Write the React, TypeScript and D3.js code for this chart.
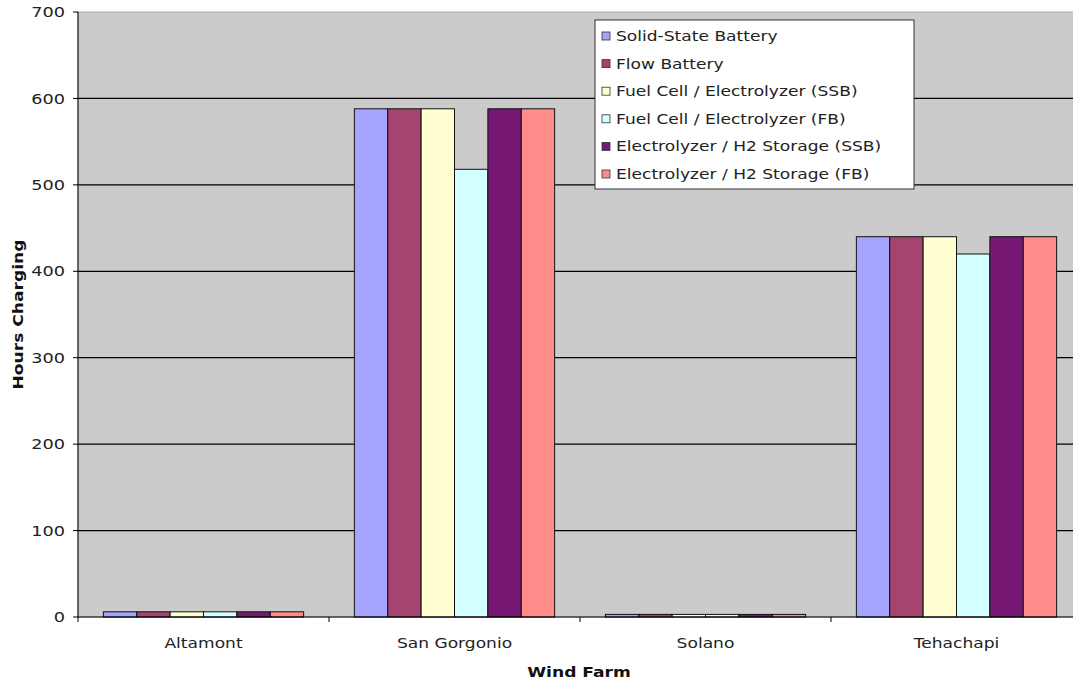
import * as d3 from "d3"

const farms = ["Altamont", "San Gorgonio", "Solano", "Tehachapi"]
const seriesNames = [
  "Solid-State Battery",
  "Flow Battery",
  "Fuel Cell / Electrolyzer (SSB)",
  "Fuel Cell / Electrolyzer (FB)",
  "Electrolyzer / H2 Storage (SSB)",
  "Electrolyzer / H2 Storage (FB)",
]
const seriesColors = ["#a4a4ff", "#a4446f", "#ffffd2", "#d2ffff", "#761874", "#ff8c88"]
const solidState = [6, 588, 3, 440]
const flowBattery = [6, 588, 3, 440]
const fuelCellSSB = [6, 588, 3, 440]
const fuelCellFB = [6, 518, 3, 420]
const h2SSB = [6, 588, 3, 440]
const h2FB = [6, 588, 3, 440]
const yTicks = [0, 100, 200, 300, 400, 500, 600, 700]

const series = [solidState, flowBattery, fuelCellSSB, fuelCellFB, h2SSB, h2FB]

const W = 1073
const H = 683
const left = 78
const right = 1082
const top = 12
const bottom = 617
const font = "'DejaVu Sans', Verdana, sans-serif"

// the original text is a little stretched sideways
function Label(props: {
  x: number
  y: number
  anchor?: "start" | "middle" | "end"
  size?: number
  bold?: boolean
  rotate?: number
  stretch?: number
  children: string
}) {
  const { x, y, anchor = "start", size = 14, bold = false, rotate = 0, stretch = 1.22 } = props
  return (
    <text
      transform={`translate(${x},${y}) rotate(${rotate}) scale(${stretch},1)`}
      textAnchor={anchor}
      dy="0.35em"
      fontSize={size}
      fontWeight={bold ? "bold" : "normal"}
      fill={bold ? "#111" : "#222"}
    >
      {props.children}
    </text>
  )
}

export default function App() {
  const x = d3.scaleBand<string>().domain(farms).range([left, right]).paddingInner(0).paddingOuter(0)
  const inner = d3
    .scaleBand<number>()
    .domain(d3.range(series.length))
    .range([0, x.bandwidth()])
    .paddingOuter(0.76)
    .paddingInner(0)
  const y = d3.scaleLinear().domain([0, 700]).range([bottom, top])

  return (
    <div style={{ position: "absolute", left: 0, top: 0, width: W, height: H, overflow: "hidden", background: "#fff" }}>
      <svg width={W} height={H} style={{ display: "block" }} fontFamily={font}>
        <rect x={left} y={top} width={right - left} height={bottom - top} fill="#cbcbcb" stroke="#a8a8a8" />
        {yTicks.slice(1, -1).map((t) => (
          <line key={t} x1={left} x2={right} y1={y(t)} y2={y(t)} stroke="#000" strokeWidth={1.2} />
        ))}
        {farms.map((f, ci) => (
          <g key={f}>
            {series.map((s, si) => (
              <rect
                key={si}
                x={x(f)! + inner(si)!}
                y={y(s[ci])}
                width={inner.bandwidth()}
                height={bottom - y(s[ci])}
                fill={seriesColors[si]}
                stroke="#111"
                strokeWidth={1}
              />
            ))}
          </g>
        ))}
        <line x1={left} x2={left} y1={top} y2={bottom + 5} stroke="#000" />
        <line x1={left} x2={right} y1={bottom} y2={bottom} stroke="#000" />
        {yTicks.map((t) => (
          <g key={t}>
            <line x1={left - 5} x2={left} y1={y(t)} y2={y(t)} stroke="#000" />
            <Label x={left - 13} y={y(t)} anchor="end" size={14.5}>
              {String(t)}
            </Label>
          </g>
        ))}
        {farms.map((f) => (
          <g key={f}>
            <line x1={x(f)! + x.bandwidth()} x2={x(f)! + x.bandwidth()} y1={bottom} y2={bottom + 5} stroke="#000" />
            <Label x={x(f)! + x.bandwidth() / 2} y={643} anchor="middle" size={14}>
              {f}
            </Label>
          </g>
        ))}
        <Label x={579} y={672} anchor="middle" size={14.5} bold stretch={1.18}>
          Wind Farm
        </Label>
        <Label x={18} y={(top + bottom) / 2} anchor="middle" size={14.5} bold rotate={-90} stretch={1.18}>
          Hours Charging
        </Label>
        <g transform="translate(595,20)">
          <rect x={0} y={0} width={319} height={169} fill="#fff" stroke="#333" />
          {seriesNames.map((n, i) => (
            <g key={n} transform={`translate(0,${16 + i * 27.6})`}>
              <rect x={7} y={-4} width={8} height={8} fill={seriesColors[i]} stroke="#333" strokeWidth={0.8} />
              <Label x={21} y={0} size={14}>
                {n}
              </Label>
            </g>
          ))}
        </g>
      </svg>
    </div>
  )
}
